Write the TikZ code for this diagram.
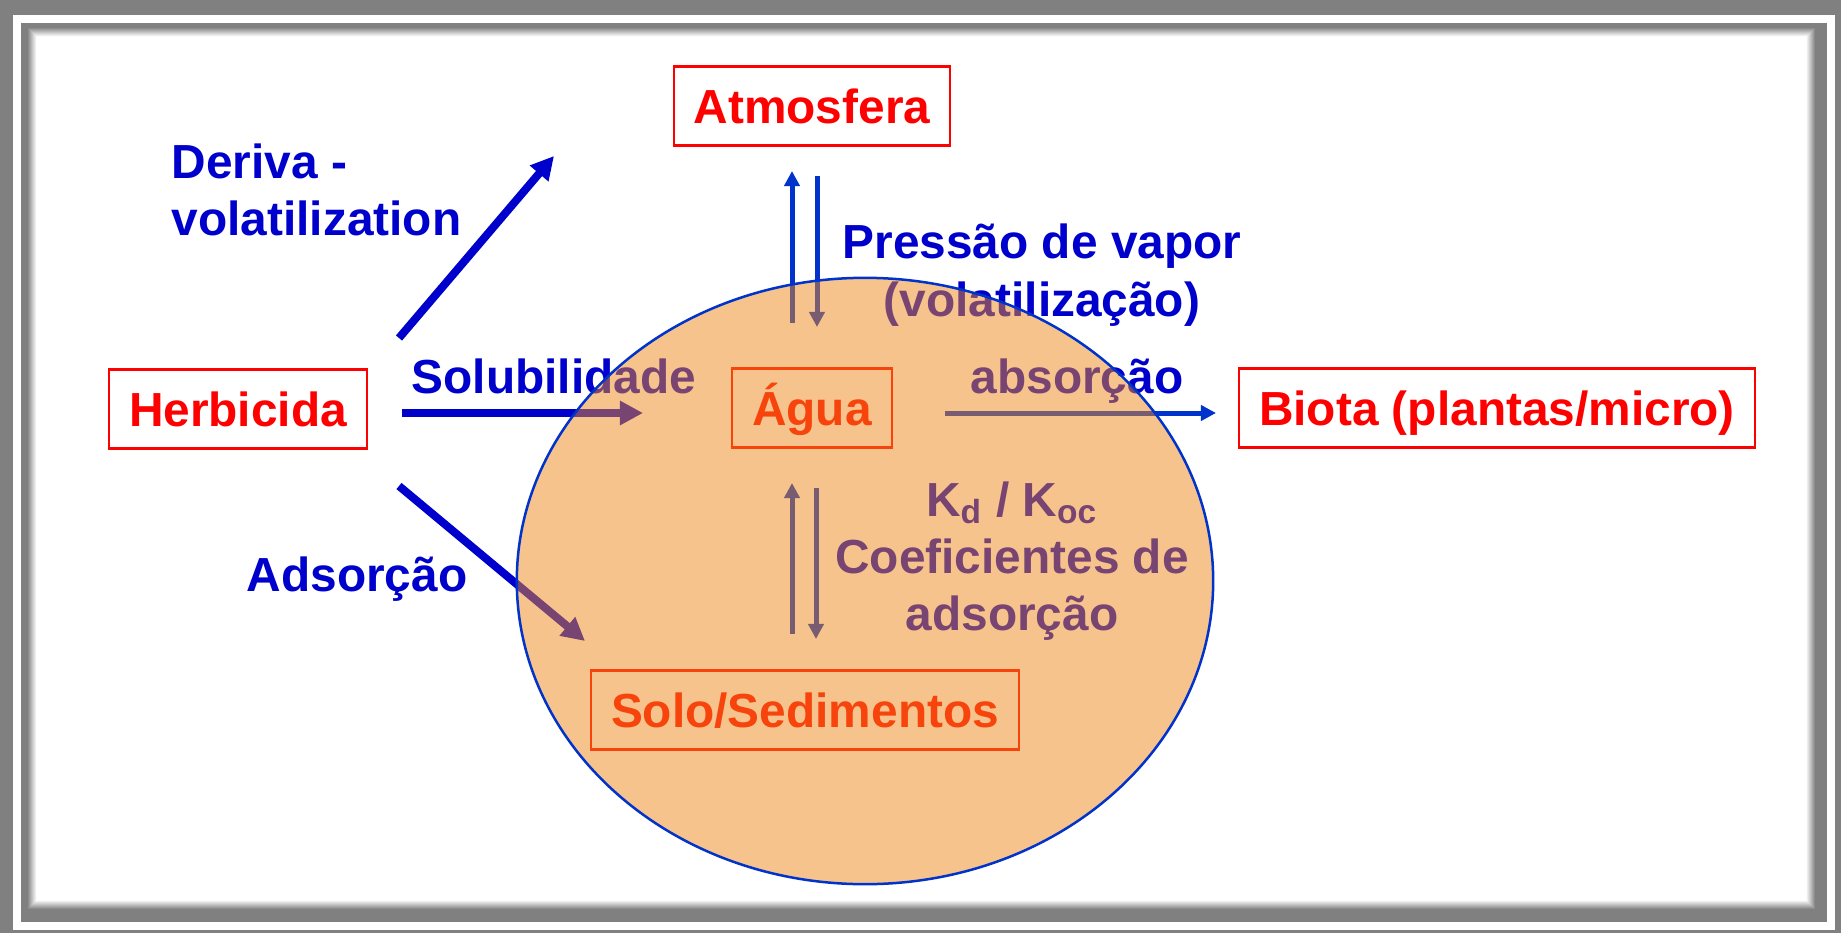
\documentclass[tikz,border=0pt]{standalone}
\usepackage{fontspec}
\setmainfont{Liberation Sans}
\usetikzlibrary{arrows.meta, positioning, shapes.geometric}
\definecolor{TxtBlue}{RGB}{0,0,204}
\definecolor{LineBlue}{RGB}{0,51,204}
\definecolor{HerbRed}{RGB}{255,0,0}
\definecolor{SoilOrange}{RGB}{240,136,26}
\definecolor{FrameGray}{RGB}{128,128,128}

\begin{document}
\begin{tikzpicture}[x=0.01cm, y=-0.01cm,
	font=\fontsize{13.6}{16.3}\selectfont\bfseries,
	caixa/.style={draw=HerbRed, line width=0.6pt, text=HerbRed, inner xsep=0.2cm, inner ysep=0pt,
		text height=0.34cm, text depth=0cm, minimum height=0.79cm},
	rot/.style={text=TxtBlue, inner sep=0pt},
	fl/.style={-{Triangle[length=0.23cm, width=0.23cm]}, line width=0.08cm, TxtBlue},
	fin/.style={-{Triangle[length=0.15cm, width=0.15cm]}, line width=0.05cm, LineBlue}]

	% --- moldura ---
	\fill[FrameGray] (0,0) rectangle (1841,933);
	\fill[white] (13,15) rectangle (1835,930);
	\fill[FrameGray] (21,23) rectangle (1827,922);
	\foreach \i [evaluate=\i as \p using 90-11*\i] in {0,...,8}
		\fill[FrameGray!\p!white] (28+\i,28+\i) rectangle (1815-\i,909-\i);
	\fill[white] (37,37) rectangle (1806,900);

	% --- textos ---
	\node[rot, align=left, anchor=west] (deriva) at (171,190) {Deriva -\\volatilization};
	\node[rot, align=center] (pressao) at (1042,275) {Pressão de vapor\\(volatilização)};
	\node[rot, anchor=base] (solub) at (554,393) {Solubilidade};
	\node[rot, anchor=base] (absor) at (1077,393) {absorção};
	\node[rot, anchor=base] (adsor) at (357,591) {Adsorção};
	\node[rot, align=center] (coef) at (1012,561)
		{K\textsubscript{d} / K\textsubscript{oc}\\Coeficientes de\\adsorção};

	% --- compartimentos ---
	\node[caixa] (atmos) at (812,106) {Atmosfera};
	\node[caixa] (herb) at (238,409) {Herbicida};
	\node[caixa] (agua) at (812,408) {Água};
	\node[caixa] (biota) at (1497,408) {Biota (plantas/micro)};
	\node[caixa] (solo) at (805,710) {Solo/Sedimentos};

	% --- setas ---
	\coordinate (derivaA) at (399,338); \coordinate (derivaB) at (554,156);
	\coordinate (solA) at (402,413);    \coordinate (solB) at (643,413);
	\coordinate (adsA) at (399,486);    \coordinate (adsB) at (585,641);
	\coordinate (volA) at (792,323);    \coordinate (volB) at (792,171);
	\coordinate (depA) at (817,176);    \coordinate (depB) at (817,327);
	\coordinate (desA) at (792,634);    \coordinate (desB) at (792,483);
	\coordinate (sorA) at (816,488);    \coordinate (sorB) at (816,639);
	\coordinate (absA) at (945,413);    \coordinate (absB) at (1216,413);
	\draw[fl] (derivaA)--(derivaB);
	\draw[fl] (solA)--(solB);
	\draw[fl] (adsA)--(adsB);
	\draw[fin] (volA)--(volB); \draw[fin] (depA)--(depB);
	\draw[fin] (desA)--(desB); \draw[fin] (sorA)--(sorB);
	\draw[fin] (absA)--(absB);

	% --- meio (solo/agua) ---
	\node[ellipse, draw=LineBlue, line width=0.025cm, fill=SoilOrange, fill opacity=0.5, draw opacity=1,
		minimum width=6.96cm, minimum height=6.06cm, inner sep=0pt] (meio) at (865,581) {};
\end{tikzpicture}
\end{document}
